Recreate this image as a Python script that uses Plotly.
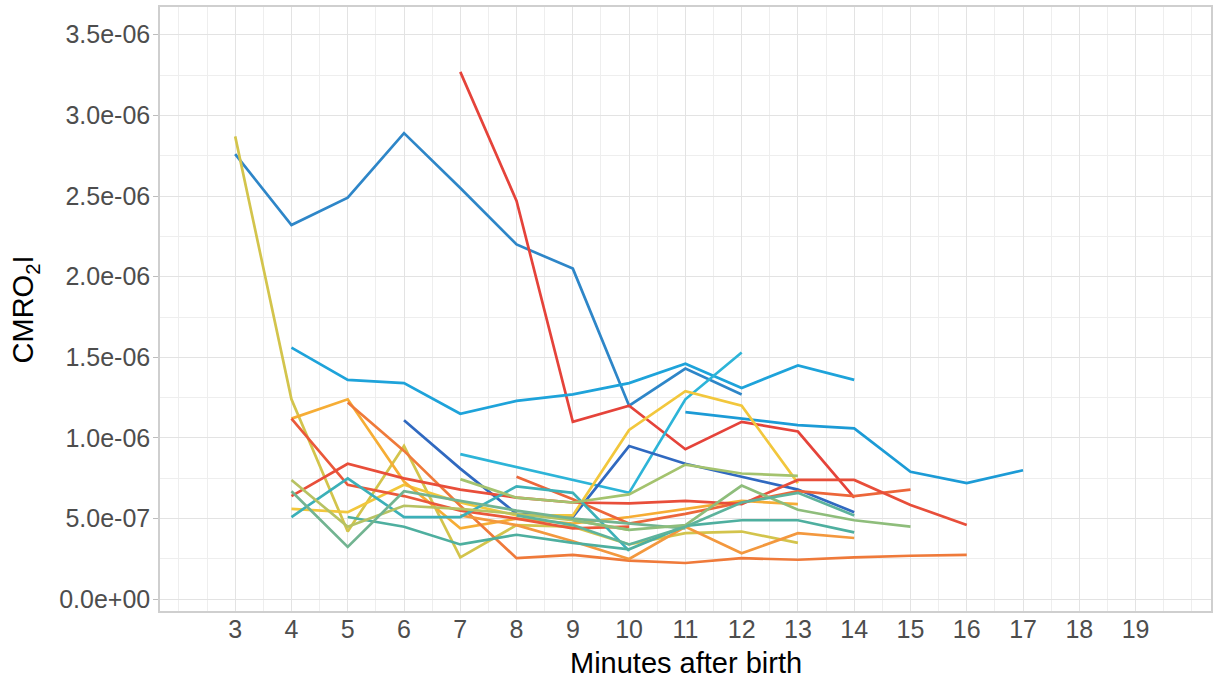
import plotly.graph_objects as go

# ---- data (CMRO2I per infant, by minutes after birth) ----
s01_x = [3, 4, 5, 6, 7, 8, 9, 10, 11, 12]
s01_y = [2.76e-6, 2.32e-6, 2.49e-6, 2.89e-6, 2.55e-6, 2.20e-6, 2.05e-6, 1.20e-6, 1.43e-6, 1.27e-6]
s02_x = [7, 8, 9, 10, 11, 12, 13, 14]
s02_y = [3.27e-6, 2.47e-6, 1.10e-6, 1.20e-6, 0.93e-6, 1.10e-6, 1.04e-6, 0.63e-6]
s03_x = [4, 5, 6, 7, 8, 9, 10, 11, 12, 13, 14]
s03_y = [1.56e-6, 1.36e-6, 1.34e-6, 1.15e-6, 1.23e-6, 1.27e-6, 1.34e-6, 1.46e-6, 1.31e-6, 1.45e-6, 1.36e-6]
s04_x = [7, 8, 9, 10, 11, 12]
s04_y = [0.90e-6, 0.82e-6, 0.74e-6, 0.66e-6, 1.24e-6, 1.53e-6]
s05_x = [11, 12, 13, 14, 15, 16, 17]
s05_y = [1.16e-6, 1.12e-6, 1.08e-6, 1.06e-6, 0.79e-6, 0.72e-6, 0.80e-6]
s06_x = [6, 7, 8, 9, 10, 11, 12, 13, 14]
s06_y = [1.11e-6, 0.81e-6, 0.53e-6, 0.51e-6, 0.95e-6, 0.84e-6, 0.76e-6, 0.68e-6, 0.54e-6]
s07_x = [3, 4, 5, 6, 7, 8, 9, 10, 11, 12, 13]
s07_y = [2.87e-6, 1.24e-6, 0.42e-6, 0.95e-6, 0.26e-6, 0.46e-6, 0.45e-6, 0.34e-6, 0.41e-6, 0.42e-6, 0.35e-6]
s08_x = [4, 5, 6, 7, 8, 9, 10, 11, 12, 13]
s08_y = [0.56e-6, 0.54e-6, 0.71e-6, 0.60e-6, 0.52e-6, 0.52e-6, 1.05e-6, 1.29e-6, 1.20e-6, 0.72e-6]
s09_x = [4, 5, 6, 7, 8, 9, 10, 11, 12, 13]
s09_y = [1.12e-6, 1.24e-6, 0.73e-6, 0.44e-6, 0.50e-6, 0.47e-6, 0.51e-6, 0.56e-6, 0.61e-6, 0.59e-6]
s10_x = [5, 6, 7, 8, 9, 10, 11, 12, 13, 14, 15, 16]
s10_y = [1.22e-6, 0.92e-6, 0.58e-6, 0.255e-6, 0.275e-6, 0.24e-6, 0.225e-6, 0.255e-6, 0.245e-6, 0.26e-6, 0.27e-6, 0.275e-6]
s11_x = [7, 8, 9, 10, 11, 12, 13, 14]
s11_y = [0.52e-6, 0.46e-6, 0.36e-6, 0.25e-6, 0.45e-6, 0.285e-6, 0.41e-6, 0.38e-6]
s12_x = [8, 9, 10, 11, 12, 13, 14, 15]
s12_y = [0.76e-6, 0.62e-6, 0.47e-6, 0.53e-6, 0.60e-6, 0.67e-6, 0.64e-6, 0.68e-6]
s13_x = [4, 5, 6, 7, 8, 9, 10]
s13_y = [1.12e-6, 0.71e-6, 0.64e-6, 0.55e-6, 0.50e-6, 0.44e-6, 0.45e-6]
s14_x = [4, 5, 6, 7, 8, 9, 10, 11, 12, 13, 14, 15, 16]
s14_y = [0.64e-6, 0.84e-6, 0.75e-6, 0.68e-6, 0.63e-6, 0.60e-6, 0.595e-6, 0.61e-6, 0.59e-6, 0.74e-6, 0.74e-6, 0.585e-6, 0.46e-6]
s15_x = [4, 5, 6, 7, 8, 9, 10]
s15_y = [0.51e-6, 0.75e-6, 0.51e-6, 0.51e-6, 0.70e-6, 0.66e-6, 0.30e-6]
s16_x = [5, 6, 7, 8, 9, 10, 11, 12, 13, 14]
s16_y = [0.51e-6, 0.45e-6, 0.34e-6, 0.40e-6, 0.35e-6, 0.31e-6, 0.455e-6, 0.49e-6, 0.49e-6, 0.415e-6]
s17_x = [4, 5, 6, 7, 8, 9, 10]
s17_y = [0.74e-6, 0.45e-6, 0.58e-6, 0.56e-6, 0.53e-6, 0.49e-6, 0.43e-6]
s18_x = [4, 5, 6, 7, 8, 9, 10, 11]
s18_y = [0.67e-6, 0.325e-6, 0.67e-6, 0.61e-6, 0.55e-6, 0.50e-6, 0.47e-6, 0.44e-6]
s19_x = [7, 8, 9, 10, 11, 12, 13]
s19_y = [0.745e-6, 0.63e-6, 0.60e-6, 0.65e-6, 0.835e-6, 0.78e-6, 0.765e-6]
s20_x = [9, 10, 11, 12, 13, 14, 15]
s20_y = [0.49e-6, 0.43e-6, 0.46e-6, 0.705e-6, 0.555e-6, 0.49e-6, 0.45e-6]
s21_x = [8, 9, 10, 11, 12, 13, 14]
s21_y = [0.52e-6, 0.46e-6, 0.34e-6, 0.45e-6, 0.60e-6, 0.66e-6, 0.52e-6]

series = [
    (s01_x, s01_y, "#2E86C8"), (s02_x, s02_y, "#E5433A"), (s03_x, s03_y, "#1EA3DA"),
    (s04_x, s04_y, "#2DB4D8"), (s05_x, s05_y, "#1C9BD6"), (s06_x, s06_y, "#3069C0"),
    (s07_x, s07_y, "#D3C44C"), (s08_x, s08_y, "#F2C73C"), (s09_x, s09_y, "#F6AD35"),
    (s10_x, s10_y, "#EF7A3A"), (s11_x, s11_y, "#F3983E"), (s12_x, s12_y, "#EC663A"),
    (s13_x, s13_y, "#EA583A"), (s14_x, s14_y, "#E84E3A"), (s15_x, s15_y, "#3CB0B8"),
    (s16_x, s16_y, "#4EAF9F"), (s17_x, s17_y, "#B7C262"), (s18_x, s18_y, "#72B491"),
    (s19_x, s19_y, "#A4C36E"), (s20_x, s20_y, "#8EBD7B"), (s21_x, s21_y, "#5DB39C"),
]

x_ticks = list(range(3, 20))
x_minor = [v / 2 for v in range(4, 41)]
y_ticks = [0, 5e-7, 1e-6, 1.5e-6, 2e-6, 2.5e-6, 3e-6, 3.5e-6]
y_ticktext = ["0.0e+00", "5.0e-07", "1.0e-06", "1.5e-06", "2.0e-06", "2.5e-06", "3.0e-06", "3.5e-06"]
y_minor = [2.5e-7, 7.5e-7, 1.25e-6, 1.75e-6, 2.25e-6, 2.75e-6, 3.25e-6]

fig = go.Figure()
for xs, ys, col in series:
    fig.add_trace(go.Scatter(x=xs, y=ys, mode="lines",
                             line=dict(color=col, width=2.7),
                             showlegend=False, hoverinfo="skip"))

FONT = "Liberation Sans, Arial, sans-serif"
tickfont = dict(family=FONT, size=25, color="#4d4d4d")
grid_major = "#e3e3e3"
grid_minor = "#eeeeee"

fig.update_layout(
    width=1215, height=681,
    margin=dict(l=160, r=2, t=7, b=70),
    paper_bgcolor="white", plot_bgcolor="white",
    font=dict(family=FONT, size=25),
    xaxis=dict(
        range=[1.664, 20.34], tickmode="array", tickvals=x_ticks,
        ticktext=[str(v) for v in x_ticks], tickfont=tickfont,
        showgrid=True, gridcolor=grid_major, gridwidth=1.3,
        minor=dict(tickmode="array", tickvals=x_minor, showgrid=True,
                   gridcolor=grid_minor, gridwidth=0.8, ticks=""),
        ticks="", ticklabelstandoff=-5,
        showline=True, linecolor="#cfcfcf", linewidth=1.5, mirror=True,
        zeroline=False,
    ),
    yaxis=dict(
        range=[-7.26e-8, 3.672e-6], tickmode="array", tickvals=y_ticks,
        ticktext=y_ticktext, tickfont=tickfont,
        showgrid=True, gridcolor=grid_major, gridwidth=1.3,
        minor=dict(tickmode="array", tickvals=y_minor, showgrid=True,
                   gridcolor=grid_minor, gridwidth=0.8, ticks=""),
        ticks="outside", ticklen=5, tickcolor="#bdbdbd", tickwidth=1.2,
        ticklabelstandoff=-2,
        showline=True, linecolor="#cfcfcf", linewidth=1.5, mirror=True,
        zeroline=False,
    ),
    annotations=[
        dict(text="Minutes after birth", xref="paper", yref="paper",
             x=0.5, y=-0.086, xanchor="center", yanchor="middle", showarrow=False,
             borderpad=0,
             font=dict(family=FONT, size=29, color="black")),
        dict(text="CMRO<sub>2</sub>I", xref="paper", yref="paper",
             x=-0.128, y=0.5, xanchor="center", yanchor="middle", showarrow=False,
             textangle=-90, borderpad=0,
             font=dict(family=FONT, size=29, color="black")),
    ],
)

fig.write_html(
    "out.html",
    config={"displayModeBar": False},
    post_script="document.body.style.margin='0';document.body.style.overflow='hidden';",
)
